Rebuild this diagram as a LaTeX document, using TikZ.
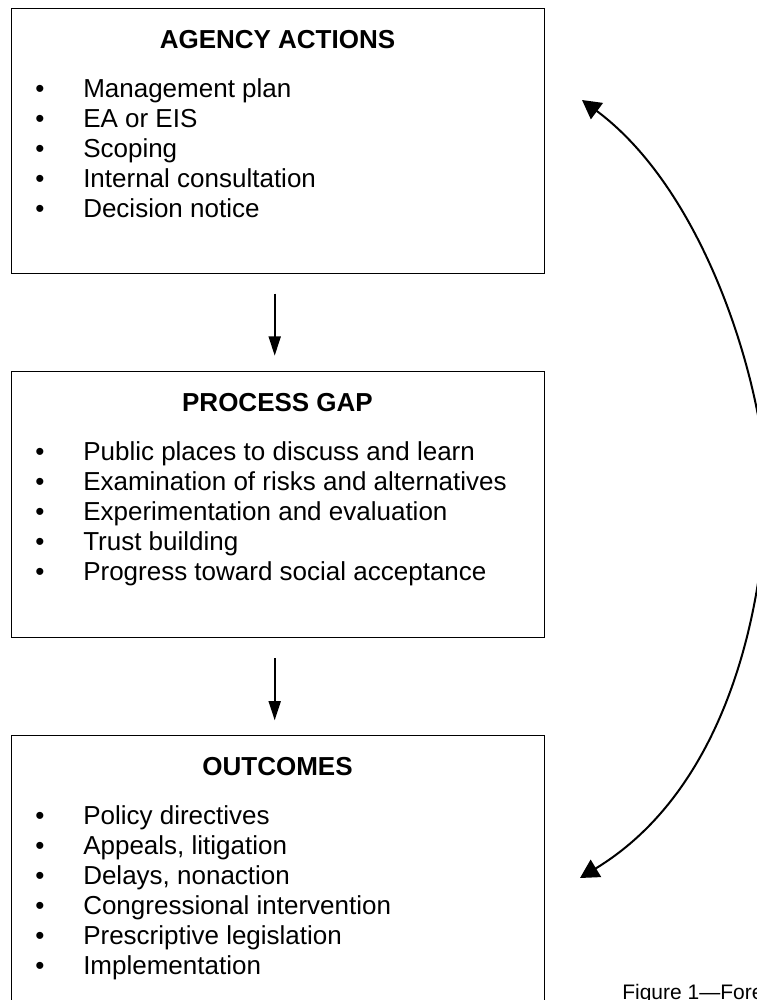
\documentclass[tikz,border=0pt]{standalone}
\usepackage{fontspec}
\setmainfont{Liberation Sans}
\usetikzlibrary{arrows.meta}
\begin{document}
\begin{tikzpicture}[x=0.75pt,y=-0.75pt,
  panel/.style={draw, line width=1pt, minimum width=399.75pt, anchor=north west, inner sep=0pt},
  heading/.style={font=\fontsize{19.5}{22}\selectfont\bfseries, inner sep=0pt},
  entry/.style={font=\fontsize{19.5}{22}\selectfont, anchor=base west, inner sep=0pt},
  bulletmark/.style={font=\fontsize{19.5}{22}\selectfont, anchor=base, inner sep=0pt},
  flow/.style={line width=1.5pt, -{Triangle[length=14.5pt,width=9pt]}},
  cycle/.style={line width=1.5pt, {Triangle[length=14pt,width=15pt]}-{Triangle[length=14pt,width=15pt]}},
]
\path[use as bounding box] (0,0) rectangle (757,1000);
\clip (0,0) rectangle (757,1000);

% the three stages
\node[panel, minimum height=198.75pt] (b1) at (11,8) {};
\node[panel, minimum height=199.5pt]  (b2) at (11,371) {};
\node[panel, minimum height=216pt]    (b3) at (11,735) {};

\node[heading] (h1) at (277.5,40)  {AGENCY ACTIONS};
\node[heading] (h2) at (277.5,403) {PROCESS GAP};
\node[heading] (h3) at (277.5,767) {OUTCOMES};

% bullet lists
\foreach \txt [count=\i] in {Management plan, EA or EIS, Scoping,
    Internal consultation, Decision notice} {
  \node[bulletmark] (p1d\i) at (40,{67+30*\i}) {\textbullet};
  \node[entry] (p1e\i) at (83,{67+30*\i}) {\txt};
}
\foreach \txt [count=\i] in {Public places to discuss and learn,
    Examination of risks and alternatives, Experimentation and evaluation,
    Trust building, Progress toward social acceptance} {
  \node[bulletmark] (p2d\i) at (40,{430+30*\i}) {\textbullet};
  \node[entry] (p2e\i) at (83,{430+30*\i}) {\txt};
}
\foreach \txt [count=\i] in {Policy directives, {Appeals, litigation},
    {Delays, nonaction}, Congressional intervention,
    Prescriptive legislation, Implementation} {
  \node[bulletmark] (p3d\i) at (40,{794+30*\i}) {\textbullet};
  \node[entry] (p3e\i) at (83,{794+30*\i}) {\txt};
}

% downward flow between stages
\draw[flow] ([xshift=-2.6pt,yshift=-14.5pt]b1.south) -- ([xshift=-2.6pt,yshift=11.5pt]b2.north);
\draw[flow] ([xshift=-2.6pt,yshift=-15pt]b2.south) -- ([xshift=-2.6pt,yshift=11pt]b3.north);

% feedback loop from outcomes back to agency actions
\coordinate (loopTop) at (582,100);
\coordinate (loopBot) at (580,878);
\draw[cycle] (loopTop) .. controls (711,196) and (766,400) .. (766,487)
             .. controls (766,580) and (738,782) .. (loopBot);

\node[anchor=base west, inner sep=0pt, font=\fontsize{15.75}{18}\selectfont] (cap) at (622,999) {Figure 1\textemdash Fore};
\end{tikzpicture}
\end{document}
